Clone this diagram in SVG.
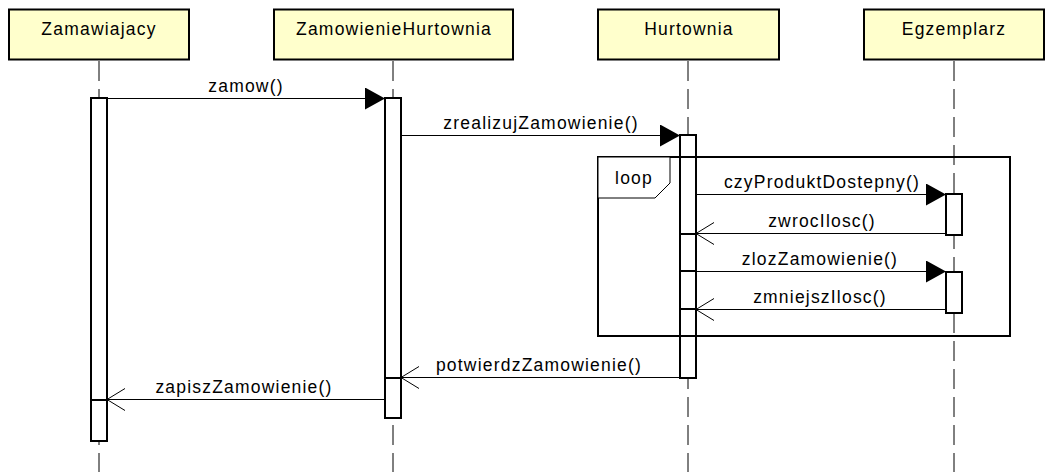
<svg xmlns="http://www.w3.org/2000/svg" width="1053" height="472" viewBox="0 0 1053 472">
<defs>
<style>
.box{fill:#FFFFCC;stroke:#000;stroke-width:2}
.life{stroke:#000;stroke-width:1;stroke-dasharray:20 8;fill:none}
.act{fill:#fff;stroke:#000;stroke-width:2}
.msg{stroke:#000;stroke-width:1;fill:none}
.call{marker-end:url(#filled)}
.ret{marker-end:url(#open)}
text{font-family:"Liberation Sans",Arial,sans-serif;font-size:17.5px;letter-spacing:1.2px;fill:#000;text-anchor:middle}
.frame{fill:none;stroke:#000;stroke-width:2}
.tab{fill:#fff;stroke:#000;stroke-width:1}
</style>
<marker id="filled" markerUnits="userSpaceOnUse" markerWidth="22" markerHeight="24" refX="20" refY="11" orient="auto">
<path d="M0,0 L20,11 L0,22 Z" fill="#000"/>
</marker>
<marker id="open" markerUnits="userSpaceOnUse" markerWidth="22" markerHeight="26" refX="19" refY="12" orient="auto">
<path d="M1,1 L19,12 L1,23" fill="none" stroke="#000" stroke-width="1"/>
</marker>
</defs>
<rect width="1053" height="472" fill="#fff"/>

<g id="lifelines">
<line class="life" x1="99" y1="61" x2="99" y2="472"/>
<line class="life" x1="393" y1="61" x2="393" y2="472"/>
<line class="life" x1="688" y1="61" x2="688" y2="472"/>
<line class="life" x1="954" y1="61" x2="954" y2="472"/>
</g>

<g id="Zamawiajacy">
<rect class="box" x="9" y="9.5" width="180" height="50"/>
<text x="99" y="34.5">Zamawiajacy</text>
<rect class="act" x="91" y="98" width="16" height="343"/>
<rect class="act" x="91" y="400" width="16" height="41"/>
</g>

<g id="ZamowienieHurtownia">
<rect class="box" x="274" y="9.5" width="239" height="50"/>
<text x="394" y="34.5">ZamowienieHurtownia</text>
<rect class="act" x="385" y="98" width="16" height="320"/>
<rect class="act" x="385" y="378" width="16" height="40"/>
</g>

<g id="Hurtownia">
<rect class="box" x="598" y="9.5" width="181" height="50"/>
<text x="689" y="34.5">Hurtownia</text>
<rect class="act" x="680" y="135" width="16" height="243"/>
<rect class="act" x="680" y="234" width="16" height="144"/>
<rect class="act" x="680" y="271" width="16" height="107"/>
<rect class="act" x="680" y="309" width="16" height="69"/>
</g>

<g id="Egzemplarz">
<rect class="box" x="864" y="9.5" width="180" height="50"/>
<text x="954" y="34.5">Egzemplarz</text>
<rect class="act" x="946" y="194" width="16" height="41"/>
<rect class="act" x="946" y="272" width="16" height="41"/>
</g>

<g id="loop">
<rect class="frame" x="598" y="157" width="412" height="179"/>
<path class="tab" d="M598,157 L670,157 L670,183 L655,198 L598,198 Z"/>
<text x="634" y="184" letter-spacing="1">loop</text>
</g>

<g id="connectors">
<line class="msg call" x1="107" y1="98.5" x2="385" y2="98.5"/>
<text x="246" y="92">zamow()</text>
<line class="msg call" x1="401" y1="135.5" x2="680" y2="135.5"/>
<text x="541" y="129">zrealizujZamowienie()</text>
<line class="msg call" x1="696" y1="194.5" x2="946" y2="194.5"/>
<text x="822" y="188">czyProduktDostepny()</text>
<line class="msg ret" x1="946" y1="233.5" x2="696" y2="233.5"/>
<text x="822" y="227">zwrocIlosc()</text>
<line class="msg call" x1="696" y1="271.5" x2="946" y2="271.5"/>
<text x="820" y="265">zlozZamowienie()</text>
<line class="msg ret" x1="946" y1="309.5" x2="696" y2="309.5"/>
<text x="820" y="303">zmniejszIlosc()</text>
<line class="msg ret" x1="680" y1="377.5" x2="401" y2="377.5"/>
<text x="539" y="371">potwierdzZamowienie()</text>
<line class="msg ret" x1="385" y1="399.5" x2="107" y2="399.5"/>
<text x="244" y="393">zapiszZamowienie()</text>
</g>
</svg>
